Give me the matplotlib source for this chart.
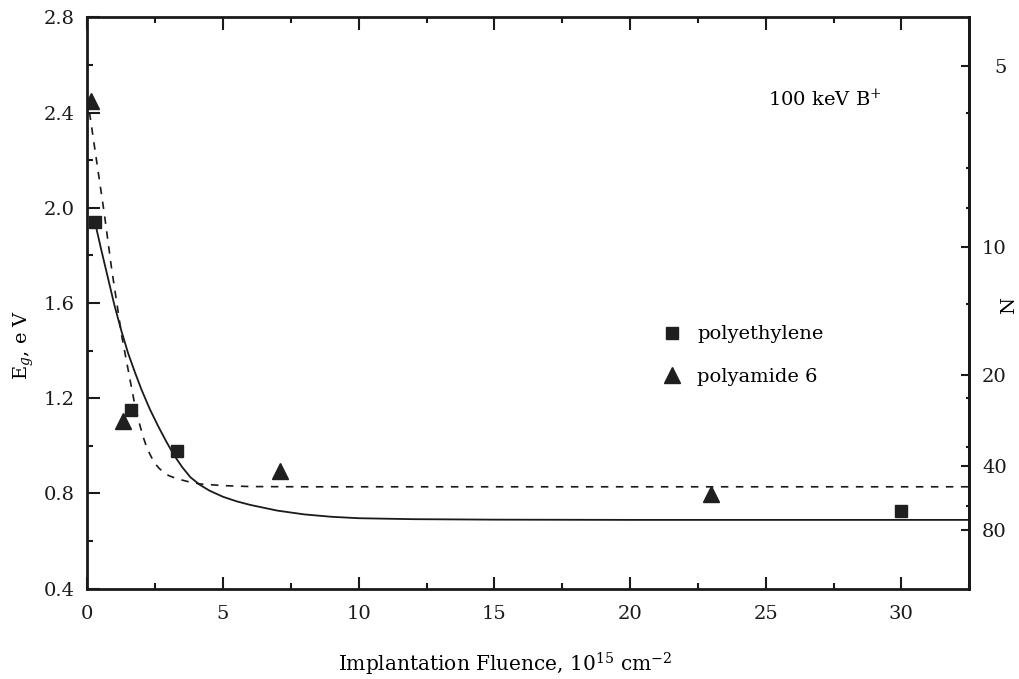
import numpy as np
import matplotlib
matplotlib.use('Agg')
import matplotlib.pyplot as plt
from matplotlib.ticker import MultipleLocator, FixedLocator

plt.rcParams['font.family'] = 'DejaVu Serif'
plt.rcParams['mathtext.fontset'] = 'dejavuserif'

# data
pe_x = [0.28, 1.6, 3.3, 30.0]
pe_eg = [1.94, 1.15, 0.98, 0.727]

pa_x = [0.12, 1.3, 7.1, 23.0]
pa_eg = [2.45, 1.105, 0.895, 0.797]

# fitted curves (traced)
solid_x = [0.28, 0.5, 0.75, 1.0, 1.25, 1.5, 1.75, 2.0, 2.3, 2.6, 2.9, 3.2, 3.5, 3.8,
           4.15, 4.5, 5.0, 5.5, 6.0, 7.0, 8.0, 9.0, 10.0, 12.0, 15.0, 20.0, 32.5]
solid_eg = [1.94, 1.83, 1.71, 1.59, 1.485, 1.39, 1.31, 1.235, 1.155, 1.085, 1.02, 0.96, 0.91, 0.868,
            0.836, 0.812, 0.786, 0.767, 0.752, 0.728, 0.712, 0.702, 0.696, 0.692, 0.690, 0.689, 0.689]

dash_x = [0.08, 0.35, 0.62, 0.9, 1.1, 1.27, 1.42, 1.57, 1.72, 1.88, 2.05, 2.2, 2.35, 2.5,
          2.65, 2.8, 3.0, 3.3, 3.7, 4.15, 5.0, 6.0, 8.0, 32.5]
dash_eg = [2.40, 2.19, 1.98, 1.74, 1.59, 1.46, 1.37, 1.28, 1.19, 1.11, 1.04, 0.99, 0.955, 0.925,
           0.905, 0.89, 0.875, 0.862, 0.85, 0.84, 0.833, 0.829, 0.828, 0.828]

n_ticks = [5, 10, 20, 40, 80]
n_minor = [5.85, 7.17, 8.43, 13.2, 23.3, 33.9, 60.0]


def eg_to_n(eg):
    eg = np.clip(np.asarray(eg, dtype=float), 1e-3, None)
    return (5.8 / eg) ** 2


def n_to_eg(n):
    n = np.clip(np.asarray(n, dtype=float), 1e-3, None)
    return 5.8 / np.sqrt(n)


fig = plt.figure(figsize=(10.19, 6.79), dpi=100)
ax = fig.add_axes([0.0857, 0.133, 0.8655, 0.8415])

ax.plot(solid_x, solid_eg, color='#1a1a1a', lw=1.3)
ax.plot(dash_x, dash_eg, color='#1a1a1a', lw=1.2, dashes=(4.5, 4.5))
ax.plot(pe_x, pe_eg, 's', color='#1f1f1f', ms=8, ls='none', label='polyethylene')
ax.plot(pa_x, pa_eg, '^', color='#1f1f1f', ms=11.5, ls='none', label='polyamide 6')

ax.set_xlim(0, 32.5)
ax.set_ylim(0.4, 2.8)
ax.set_xticks([0, 5, 10, 15, 20, 25, 30])
ax.xaxis.set_minor_locator(MultipleLocator(2.5))
ax.set_yticks([0.4, 0.8, 1.2, 1.6, 2.0, 2.4, 2.8])
ax.yaxis.set_minor_locator(MultipleLocator(0.2))
ax.set_yticklabels(['0.4', '0.8', '1.2', '1.6', '2.0', '2.4', '2.8'])

ax.tick_params(which='both', direction='in', top=True, right=False, width=1.5,
               labelsize=14, colors='#1a1a1a')
ax.tick_params(axis='x', which='major', length=9, pad=12)
ax.tick_params(axis='y', which='major', length=9, pad=9)
ax.tick_params(which='minor', length=4.5)
for s in ax.spines.values():
    s.set_linewidth(2)
    s.set_color('#1a1a1a')

ax.set_xlabel('Implantation Fluence, 10$^{15}$ cm$^{-2}$', fontsize=14.5)
ax.xaxis.set_label_coords(0.474, -0.108)
ax.set_ylabel('E$_g$, e V', fontsize=14)
ax.yaxis.set_label_coords(-0.058, 0.427)

ax2 = ax.secondary_yaxis('right', functions=(eg_to_n, n_to_eg))
ax2.set_yticks(n_ticks)
ax2.set_yticklabels([str(v) for v in n_ticks])
ax2.yaxis.set_minor_locator(FixedLocator(n_minor))
ax2.tick_params(which='both', direction='in', width=1.5, labelsize=14, colors='#1a1a1a')
ax2.tick_params(which='major', length=6, pad=27)
ax2.tick_params(which='minor', length=2.5)
for lab in ax2.get_yticklabels():
    lab.set_horizontalalignment('right')
ax2.spines['right'].set_linewidth(2)

fig.text(1009 / 1019, 1 - 305 / 679, 'N', fontsize=14, rotation=90, ha='center', va='center')

ax.legend(loc='center left', bbox_to_anchor=(0.650, 0.4764), bbox_transform=fig.transFigure,
          frameon=False, fontsize=14, handlelength=1.0, handletextpad=0.8,
          labelspacing=1.25, borderpad=0, borderaxespad=0)

fig.text(768 / 1019, 1 - 106 / 679, '100 keV B$^{+}$', fontsize=14, va='baseline', ha='left')

fig.savefig('out.png', dpi=100)
